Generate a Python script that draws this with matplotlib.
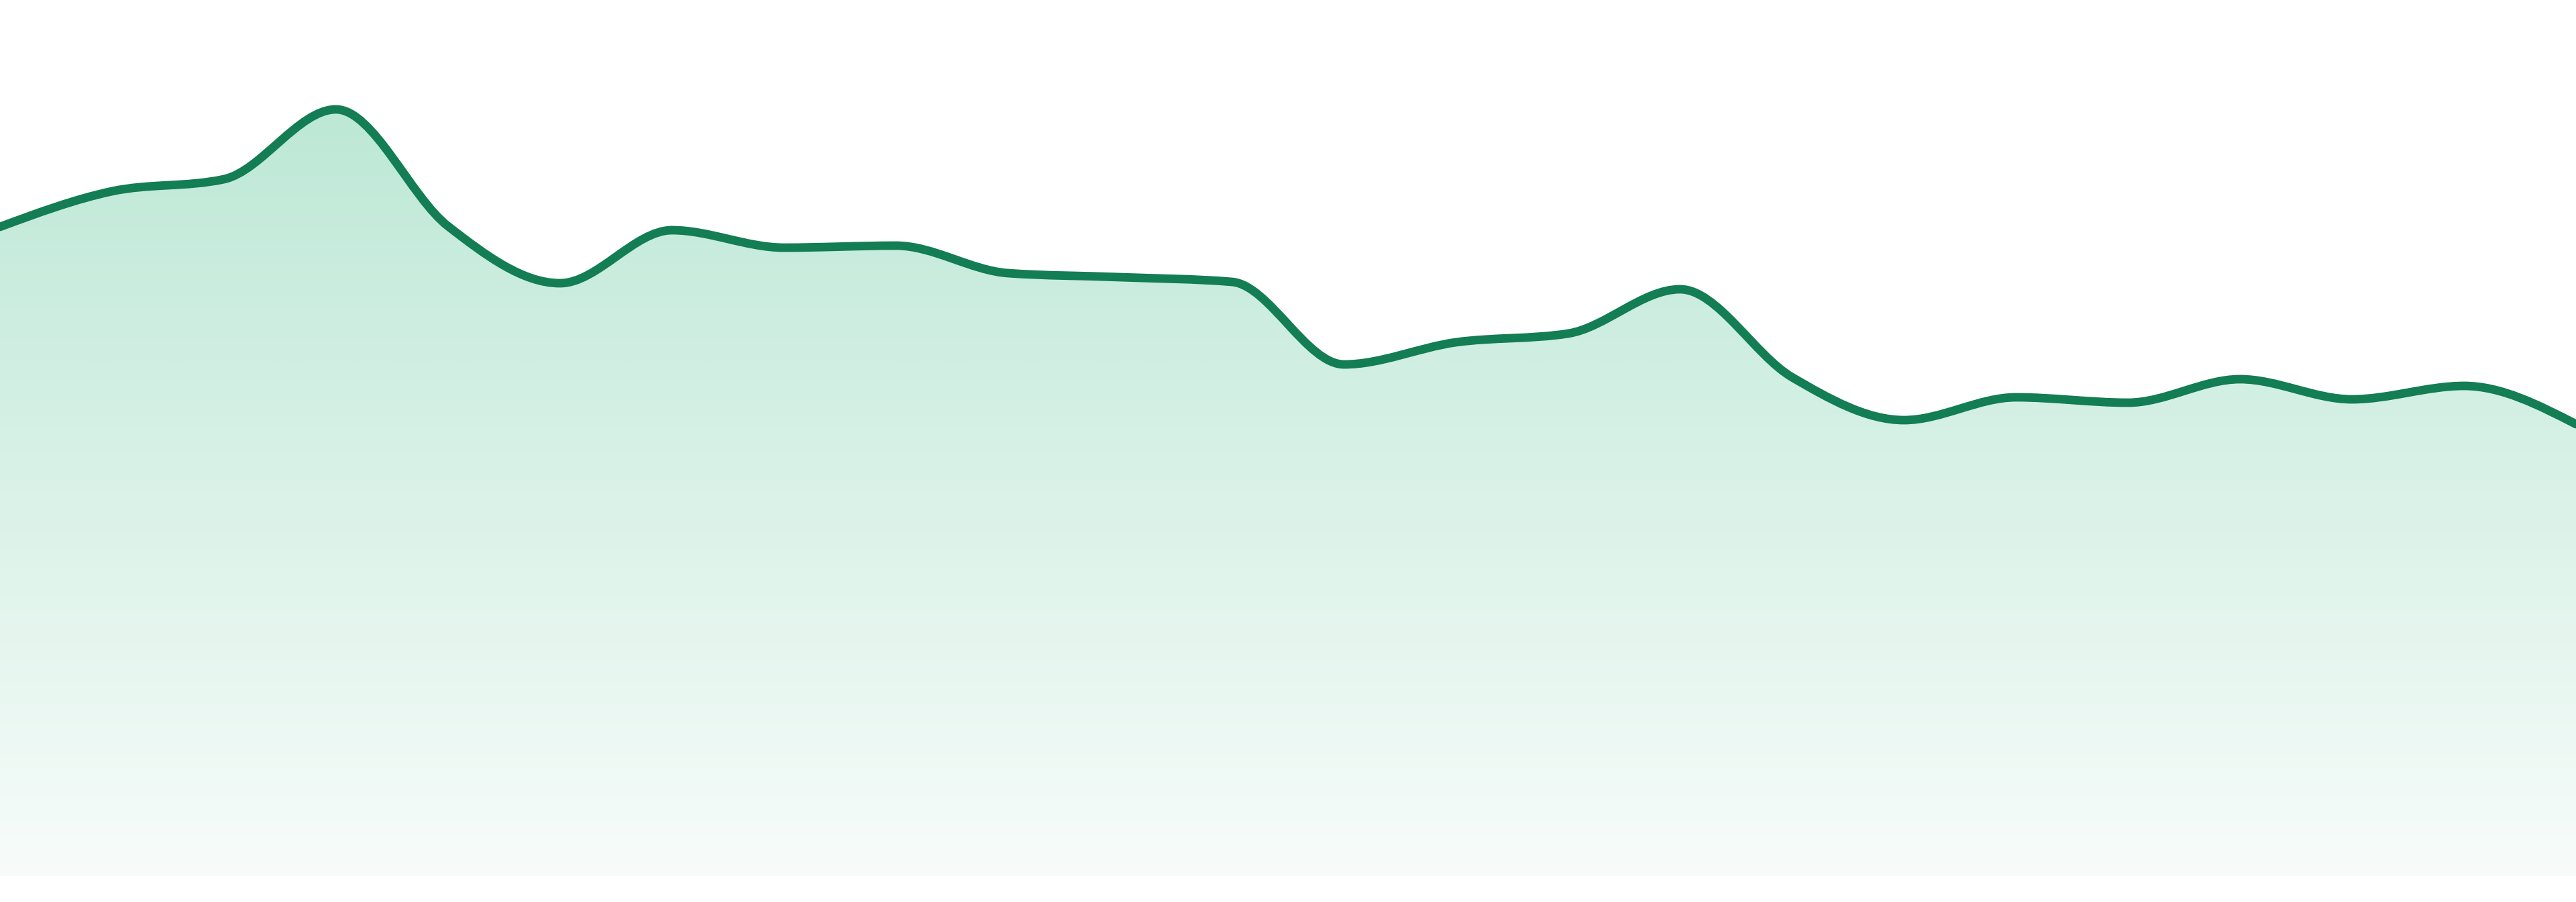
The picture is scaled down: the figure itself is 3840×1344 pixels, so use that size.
import numpy as np
import matplotlib
matplotlib.use("Agg")
import matplotlib.pyplot as plt
from matplotlib.path import Path
from matplotlib.patches import PathPatch
from matplotlib.colors import LinearSegmentedColormap

# readings, one per step (left to right)
steps = list(range(24))
values = [96.7, 102.0, 103.8, 114.2, 96.8, 88.3, 96.2, 93.6, 93.9, 89.8, 89.2, 88.5,
          76.2, 79.5, 80.8, 87.4, 74.3, 67.9, 71.3, 70.5, 74.0, 71.0, 73.0, 67.3]

line_color = '#137D53'
fill_top = '#BDE8D6'
fill_bottom = '#F7FCFA'


def monotone_curve(x, y):
    # bezier segments with monotone-x tangents (same idea as d3.curveMonotoneX)
    x = np.asarray(x, dtype=float)
    y = np.asarray(y, dtype=float)
    n = len(x)
    h = np.diff(x)
    s = np.diff(y) / h
    t = np.zeros(n)
    for i in range(1, n - 1):
        h0, h1 = h[i - 1], h[i]
        s0, s1 = s[i - 1], s[i]
        p = (s0 * h1 + s1 * h0) / (h0 + h1)
        t[i] = (np.sign(s0) + np.sign(s1)) * min(abs(s0), abs(s1), 0.5 * abs(p))
    t[0] = (3 * s[0] - t[1]) / 2
    t[-1] = (3 * s[-1] - t[-2]) / 2

    verts = [(x[0], y[0])]
    codes = [Path.MOVETO]
    for i in range(n - 1):
        d = h[i] / 3
        verts += [(x[i] + d, y[i] + t[i] * d),
                  (x[i + 1] - d, y[i + 1] - t[i + 1] * d),
                  (x[i + 1], y[i + 1])]
        codes += [Path.CURVE4] * 3
    return verts, codes


fig = plt.figure(figsize=(19.2, 6.72), dpi=200)
ax = fig.add_axes([0, 39 / 1344, 1, 1305 / 1344])
ax.set_xlim(steps[0], steps[-1])
ax.set_ylim(0, 130.5)
ax.axis('off')

verts, codes = monotone_curve(steps, values)

# area under the curve, filled with a vertical gradient
area_verts = verts + [(steps[-1], 0), (steps[0], 0), (steps[0], 0)]
area_codes = codes + [Path.LINETO, Path.LINETO, Path.CLOSEPOLY]
area = PathPatch(Path(area_verts, area_codes), facecolor='none', edgecolor='none')
ax.add_patch(area)

cmap = LinearSegmentedColormap.from_list('fade', [fill_bottom, fill_top])
grad = np.linspace(0, 1, 256).reshape(-1, 1)
img = ax.imshow(grad, cmap=cmap, origin='lower', aspect='auto',
                extent=[steps[0], steps[-1], 0, max(values)], interpolation='bicubic')
img.set_clip_path(area)

line = PathPatch(Path(verts, codes), facecolor='none', edgecolor=line_color,
                 linewidth=4.6, capstyle='round', joinstyle='round')
ax.add_patch(line)

ax.set_xlim(steps[0], steps[-1])
ax.set_ylim(0, 130.5)

fig.savefig('out.png', dpi=200, facecolor='white')
